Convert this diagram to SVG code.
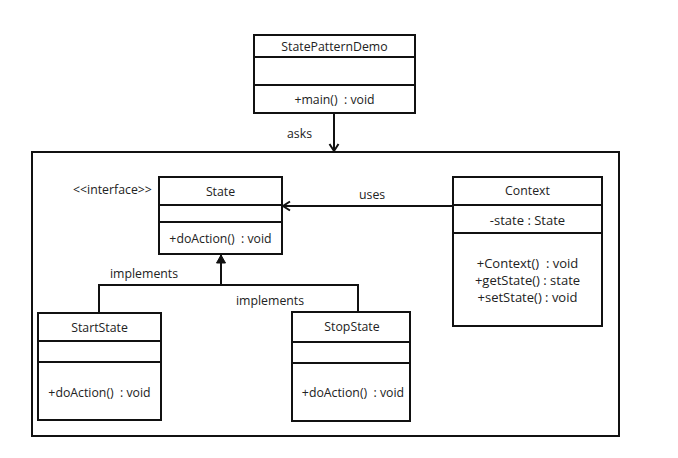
<svg xmlns="http://www.w3.org/2000/svg" width="678" height="458" viewBox="0 0 678 458">
<style>
.box{fill:#fff;stroke:#111;stroke-width:2}
.ln{stroke:#111;stroke-width:2;fill:none}
text{font-family:"Open Sans","DejaVu Sans",sans-serif;font-size:12.3px;fill:#222;white-space:pre}
.c{text-anchor:middle}
.big{font-size:13px}
</style>
<defs>
<marker id="open" markerWidth="12" markerHeight="12" refX="9" refY="6" orient="auto" markerUnits="userSpaceOnUse">
<path d="M2,1.5 L9,6 L2,10.5" fill="none" stroke="#111" stroke-width="2"/>
</marker>
<marker id="solid" markerWidth="12" markerHeight="12" refX="10" refY="6" orient="auto" markerUnits="userSpaceOnUse">
<path d="M2,1.5 L10,6 L2,10.5 Z" fill="#111" stroke="#111" stroke-width="1"/>
</marker>
</defs>
<rect width="678" height="458" fill="#fff"/>
<g id="container">
<rect x="32" y="152" width="587" height="284" class="box"/>
</g>
<g id="connectors">
<line x1="334" y1="113" x2="334" y2="151" class="ln" marker-end="url(#open)"/>
<text x="287" y="138">asks</text>
<line x1="453" y1="206" x2="283" y2="206" class="ln" marker-end="url(#open)"/>
<text x="359" y="199">uses</text>
<polyline points="99,313 99,285 358,285 358,312" class="ln"/>
<line x1="221" y1="285" x2="221" y2="255" class="ln" marker-end="url(#solid)"/>
<text x="110" y="278">implements</text>
<text x="236" y="305">implements</text>
</g>
<g id="StatePatternDemo">
<rect x="254" y="35" width="161" height="78" class="box"/>
<line x1="254" y1="57" x2="415" y2="57" class="ln"/>
<line x1="254" y1="85" x2="415" y2="85" class="ln"/>
<text x="334.5" y="51" class="c">StatePatternDemo</text>
<text x="334.5" y="104" class="c">+main()  : void</text>
</g>
<g id="State">
<rect x="159" y="177" width="123" height="77" class="box"/>
<line x1="159" y1="205" x2="282" y2="205" class="ln"/>
<line x1="159" y1="222" x2="282" y2="222" class="ln"/>
<text x="220.5" y="196" class="c">State</text>
<text x="220.5" y="243" class="c">+doAction()  : void</text>
<text x="73" y="194">&lt;&lt;interface&gt;&gt;</text>
</g>
<g id="Context">
<rect x="453" y="177" width="149" height="149" class="box"/>
<line x1="453" y1="205" x2="602" y2="205" class="ln"/>
<line x1="453" y1="233" x2="602" y2="233" class="ln"/>
<text x="527.5" y="195" class="c">Context</text>
<text x="527.5" y="225" class="c big">-state : State</text>
<text x="527.5" y="268" class="c big">+Context()  : void</text>
<text x="527.5" y="285" class="c big">+getState() : state</text>
<text x="527.5" y="302" class="c big">+setState() : void</text>
</g>
<g id="StartState">
<rect x="38" y="313" width="123" height="107" class="box"/>
<line x1="38" y1="341" x2="161" y2="341" class="ln"/>
<line x1="38" y1="362" x2="161" y2="362" class="ln"/>
<text x="99.5" y="332" class="c">StartState</text>
<text x="99.5" y="397" class="c">+doAction()  : void</text>
</g>
<g id="StopState">
<rect x="292" y="312" width="118" height="109" class="box"/>
<line x1="292" y1="342" x2="410" y2="342" class="ln"/>
<line x1="292" y1="363" x2="410" y2="363" class="ln"/>
<text x="352" y="331" class="c">StopState</text>
<text x="353" y="397" class="c">+doAction()  : void</text>
</g>
</svg>
